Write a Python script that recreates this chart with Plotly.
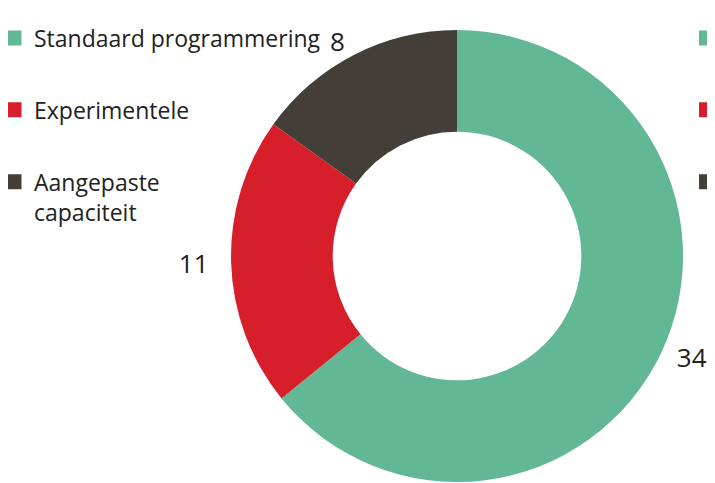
import plotly.graph_objects as go

labels = ["Standaard programmering", "Experimentele", "Aangepaste capaciteit"]
legend_text = ["Standaard programmering", "Experimentele", "Aangepaste<br>capaciteit"]
values = [34, 11, 8]
colors = ["#62b795", "#d71f2b", "#433f38"]
NB = "\u00a0"
# padding so plotly's outside labels sit a little further from the ring
label_templates = [NB + "%{value}", "%{value}" + NB * 2, "%{value}"]

FONT = "Open Sans"

fig = go.Figure()
fig.add_trace(go.Pie(
    labels=labels, values=values, sort=False, direction="clockwise", rotation=0,
    hole=0.55, marker=dict(colors=colors, line=dict(width=0)),
    texttemplate=label_templates, textposition="outside",
    outsidetextfont=dict(family=FONT, size=26, color="#222222"),
    domain=dict(x=[0.309, 0.947], y=[0, 1]),
    showlegend=False, hoverinfo="label+value",
))

for i, (t, c) in enumerate(zip(legend_text, colors)):
    # main legend (left)
    fig.add_trace(go.Scatter(
        x=[None], y=[None], mode="markers", name=t,
        marker=dict(symbol="square", size=15, color=c),
        legendgroup=f"a{i}", legend="legend", showlegend=True,
    ))
    # second legend, clipped at the right edge (only the swatches show)
    fig.add_trace(go.Scatter(
        x=[None], y=[None], mode="markers", name="",
        marker=dict(symbol="square", size=15, color=c),
        legendgroup=f"b{i}", legend="legend2", showlegend=True,
    ))

legend_common = dict(
    font=dict(family=FONT, size=23, color="#222222"),
    tracegroupgap=39, valign="top", itemsizing="trace",
    bgcolor="rgba(0,0,0,0)", xanchor="left", yanchor="top",
)
fig.update_layout(
    width=715, height=483,
    margin=dict(l=0, r=0, t=22, b=9, autoexpand=False),
    paper_bgcolor="white", plot_bgcolor="white",
    xaxis=dict(visible=False), yaxis=dict(visible=False),
    legend=dict(x=-0.0196, y=1.03, **legend_common),
    legend2=dict(x=0.949, y=1.03, **legend_common),
)
fig.write_html("out.html")
